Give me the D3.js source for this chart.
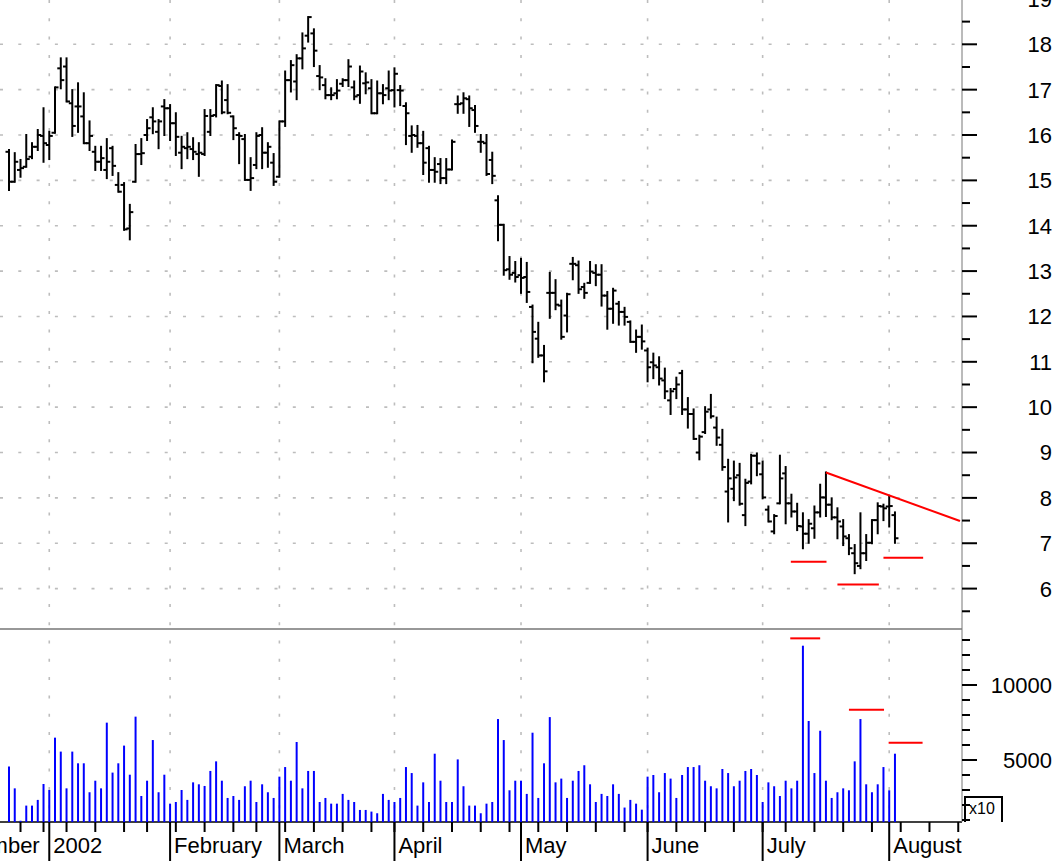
<!DOCTYPE html>
<html>
<head>
<meta charset="utf-8">
<script src="https://cdn.jsdelivr.net/npm/d3@7/dist/d3.min.js"></script>
<style>
  body { margin: 0; background: #fff; }
  text { font-family: "Liberation Sans", Arial, sans-serif; fill: #000; }
</style>
</head>
<body>
<script>
// daily bars from 20 Dec 2001, one per trading day (index 0 = first bar)
var firstBar = "2001-12-20";
var holidays = ["2001-12-25", "2002-01-01", "2002-01-21", "2002-02-18", "2002-03-29", "2002-05-27", "2002-07-04"];

var opens = [15.63,14.97,15.23,15.30,15.52,15.74,15.98,15.78,16.05,17.47,17.51,16.70,16.63,16.41,15.82,15.63,15.41,15.23,15.71,14.90,
  14.90,13.94,14.97,15.58,16.00,16.39,16.07,16.63,16.59,16.26,15.61,15.71,15.69,15.58,15.58,16.07,16.44,17.08,16.77,16.41,
  16.00,15.91,15.01,15.34,16.00,15.61,15.39,15.08,16.30,17.21,17.18,17.69,18.19,18.24,17.30,17.10,16.88,16.92,17.13,17.21,
  17.05,16.88,17.14,17.03,16.48,16.92,17.03,16.99,16.99,16.64,15.98,15.98,15.82,15.71,15.23,15.36,15.05,15.24,16.68,16.70,
  16.79,16.55,15.85,15.82,15.45,14.56,14.02,13.04,12.96,12.91,12.87,12.21,11.51,11.14,12.52,12.52,12.24,12.02,13.16,13.13,
  12.65,12.74,12.96,12.92,12.46,12.17,12.28,12.10,11.88,11.44,11.55,11.25,10.99,10.88,10.59,10.15,10.40,10.75,9.95,9.85,
  9.00,9.45,9.95,9.55,9.17,8.14,8.20,8.50,7.62,8.36,8.93,8.52,7.74,7.26,7.88,8.54,7.88,7.70,7.37,7.21,
  7.33,7.68,8.01,7.85,7.57,7.37,7.11,6.78,6.50,6.78,7.01,7.51,7.81,7.81,7.62];
var highs = [15.67,15.60,15.45,16.00,15.82,16.11,16.59,16.07,17.05,17.69,17.69,16.99,17.14,16.92,16.30,15.74,15.74,15.91,15.74,15.16,
  14.94,14.46,15.78,15.91,16.33,16.59,16.33,16.77,16.66,16.48,15.96,16.04,15.93,15.82,16.55,16.55,17.10,17.18,17.10,16.41,
  16.04,16.00,15.49,16.04,16.15,15.82,15.58,16.30,17.40,17.63,17.76,18.24,18.60,18.33,17.52,17.23,17.03,17.21,17.23,17.65,
  17.18,17.51,17.36,17.21,17.18,17.10,17.40,17.47,17.08,16.70,16.19,16.20,16.07,15.74,15.49,15.47,15.47,15.88,16.85,16.92,
  16.85,16.64,16.00,16.00,15.61,14.65,14.02,13.31,13.20,13.27,13.18,12.24,11.86,11.35,12.96,12.80,12.35,12.50,13.29,13.21,
  12.72,13.20,13.13,13.13,12.54,12.61,12.32,12.19,11.89,11.69,11.80,11.29,11.18,11.10,10.85,10.40,10.65,10.80,10.20,9.95,
  9.37,10.00,10.27,9.77,9.50,8.84,8.80,8.75,8.40,8.95,8.98,8.80,7.81,7.62,8.93,8.68,8.07,7.87,7.66,7.51,
  7.81,8.29,8.56,7.99,7.77,7.51,7.18,6.96,7.66,7.18,7.51,7.88,7.85,8.03,7.68];
var lows = [14.79,14.97,15.08,15.30,15.49,15.67,15.41,15.47,16.05,17.03,16.74,15.98,16.07,15.82,15.67,15.23,15.23,15.05,15.12,14.75,
  13.91,13.70,14.97,15.36,15.89,16.04,15.71,16.00,15.89,15.56,15.27,15.49,15.47,15.10,15.56,16.00,16.41,16.48,16.48,15.91,
  15.38,15.01,14.79,15.27,15.27,15.30,14.90,15.08,16.20,16.96,16.79,17.47,18.06,17.52,17.01,16.81,16.79,16.81,17.08,17.08,
  16.79,16.71,16.92,16.48,16.48,16.70,16.79,16.63,16.66,15.80,15.63,15.74,15.14,14.97,14.97,14.94,14.94,15.24,16.49,16.49,
  16.20,16.07,15.63,15.12,14.94,13.68,12.92,12.83,12.77,12.52,12.32,10.99,11.11,10.57,11.97,12.16,11.51,11.67,12.82,12.52,
  12.41,12.74,12.69,12.24,11.73,11.86,11.82,11.82,11.44,11.22,11.29,10.57,10.64,10.50,10.20,9.85,10.20,9.85,9.55,9.30,
  8.85,9.43,9.77,9.17,8.62,7.48,7.95,7.85,7.40,8.32,8.50,7.99,7.48,7.22,7.88,7.44,7.59,7.29,6.89,7.01,
  7.12,7.59,7.60,7.53,7.11,6.96,6.76,6.34,6.45,6.63,7.00,7.22,7.51,7.37,7.01];
var closes = [14.97,15.41,15.27,15.47,15.74,16.00,15.82,15.98,17.05,17.21,16.74,16.20,16.63,15.82,15.98,15.41,15.49,15.41,15.32,14.75,
  13.92,14.30,15.58,15.60,16.15,16.30,16.30,16.59,16.26,15.96,15.74,15.74,15.63,15.61,16.42,16.42,17.10,16.50,16.49,16.15,
  15.98,15.01,15.05,15.98,15.61,15.74,14.97,16.30,17.21,17.54,17.69,17.91,18.60,17.86,17.27,16.88,16.88,16.98,17.21,17.51,
  16.85,17.40,17.16,16.48,16.92,16.88,16.98,17.35,16.98,16.48,16.00,15.82,15.39,15.23,15.19,15.05,15.24,15.85,16.68,16.81,
  16.59,16.20,15.85,15.14,15.10,14.02,13.02,12.92,12.87,12.85,12.54,11.66,11.14,10.79,12.52,12.26,11.55,12.49,13.16,12.60,
  12.52,12.99,12.92,12.46,12.17,12.57,12.10,11.99,11.44,11.55,11.45,10.88,10.92,10.63,10.35,10.35,10.50,9.95,9.85,9.30,
  9.35,9.90,9.80,9.33,8.68,8.43,8.45,7.87,8.33,8.93,8.76,8.01,7.48,7.60,8.43,7.88,7.70,7.38,7.21,7.43,
  7.68,8.01,7.85,7.57,7.48,7.15,6.89,6.56,6.78,7.01,7.51,7.82,7.77,7.82,7.11];
// volume as printed on the lower axis (x10)
var volumes = [4560,3110,950,1960,1960,2340,3400,3000,6490,5560,3110,5560,4780,4780,2850,3620,3110,7490,4160,4780,
  5960,4020,7890,2600,3620,6330,2850,4020,2090,2200,3000,2340,3510,3380,3270,4270,4910,3620,2470,2600,
  2340,3250,3620,2200,3380,2850,2470,3890,4530,3620,6200,3110,4270,4270,2200,2470,2090,2090,2740,2340,
  2200,1670,1670,1560,1450,2740,2340,2200,2470,4530,4130,1960,3510,2200,5420,3620,2200,2200,5040,3250,
  1960,1960,1450,2090,2200,7730,6330,2980,3620,3620,2740,6820,2470,4780,7860,3510,3760,2470,3620,4270,
  4650,3380,2200,2740,2600,3380,2740,1830,2340,2090,1690,3890,4000,2850,4130,3760,2470,4000,4530,4530,
  4650,3620,3250,3110,4400,4130,3250,3620,4270,4400,4000,2200,3510,3250,2600,3620,3110,3620,12620,7600,
  4130,6950,3620,2470,2850,3110,2980,4910,7730,3380,2850,3380,4530,2980,5420];

var priceTicks = d3.range(6, 20);
var volTicks = [5000, 10000];

// red marks on the chart: [from bar, to bar, level]
var priceMarks = [[135.9, 142.1, 6.59], [144.0, 151.2, 6.09], [152.0, 158.9, 6.68]];
var trendLine = [[142, 8.56], [165.3, 7.49]];
var volumeMarks = [[135.8, 141.0, 13110], [146.0, 152.1, 8350], [152.9, 158.8, 6150]];

var width = 1061, height = 861;
var axisX = 962, sepY = 629, baseY = 822;

var fmt = d3.utcFormat("%Y-%m-%d");
var days = d3.utcDay.range(new Date(Date.UTC(2001, 11, 1)), new Date(Date.UTC(2002, 8, 1)))
  .filter(function (d) { return d.getUTCDay() % 6 != 0 && holidays.indexOf(fmt(d)) < 0; });
var i0 = days.findIndex(function (d) { return fmt(d) == firstBar; });

var x = d3.scaleLinear().domain([0, 154]).range([9, 9 + 154 * 5.753]);
var y = d3.scaleLinear().domain([6, 18]).range([588.6, 44.3]);
var yv = d3.scaleLinear().domain([5000, 10000]).range([760, 685]);

var months = [], weeks = [];
days.forEach(function (d, k) {
  var p = days[k - 1];
  if (!p || p.getUTCMonth() != d.getUTCMonth()) months.push({ i: k - i0, d: d });
  if (p && +d3.utcMonday.floor(p) != +d3.utcMonday.floor(d)) weeks.push(k - i0);
});

var svg = d3.select("body").append("svg")
  .attr("width", width).attr("height", height);
svg.append("rect").attr("width", width).attr("height", height).attr("fill", "#fff");

svg.append("clipPath").attr("id", "plot")
  .append("rect").attr("x", 0).attr("y", 0).attr("width", axisX).attr("height", height);

var plot = svg.append("g").attr("clip-path", "url(#plot)");

// dotted grid
plot.selectAll(".hgrid").data(priceTicks).enter().append("line")
  .attr("x1", 0).attr("x2", axisX)
  .attr("y1", function (d) { return y(d); }).attr("y2", function (d) { return y(d); })
  .attr("stroke", "#bdbdbd").attr("stroke-width", 1.6).attr("stroke-dasharray", "3,15.3");
plot.selectAll(".vgrid").data(months).enter().append("line")
  .attr("x1", function (d) { return x(d.i); }).attr("x2", function (d) { return x(d.i); })
  .attr("y1", 0).attr("y2", baseY)
  .attr("stroke", "#bdbdbd").attr("stroke-width", 1.6).attr("stroke-dasharray", "3,15.3");

// panel separator and baseline
plot.append("line").attr("x1", 0).attr("x2", axisX).attr("y1", sepY).attr("y2", sepY)
  .attr("stroke", "#333").attr("stroke-width", 1.2);
plot.append("line").attr("x1", 0).attr("x2", axisX).attr("y1", baseY).attr("y2", baseY)
  .attr("stroke", "#000").attr("stroke-width", 1.5);

// volume
plot.selectAll(".vol").data(volumes).enter().append("line")
  .attr("x1", function (d, i) { return x(i); }).attr("x2", function (d, i) { return x(i); })
  .attr("y1", baseY).attr("y2", function (d) { return yv(d); })
  .attr("stroke", "#0000ff").attr("stroke-width", 2);

// OHLC bars
var bars = plot.selectAll(".bar").data(opens).enter().append("g")
  .attr("stroke", "#000").attr("stroke-width", 2);
bars.append("line")
  .attr("x1", function (d, i) { return x(i); }).attr("x2", function (d, i) { return x(i); })
  .attr("y1", function (d, i) { return y(highs[i]) - 1; }).attr("y2", function (d, i) { return y(lows[i]) + 1; });
bars.append("line")
  .attr("x1", function (d, i) { return x(i) - 3.5; }).attr("x2", function (d, i) { return x(i); })
  .attr("y1", function (d) { return y(d); }).attr("y2", function (d) { return y(d); });
bars.append("line")
  .attr("x1", function (d, i) { return x(i); }).attr("x2", function (d, i) { return x(i) + 3.5; })
  .attr("y1", function (d, i) { return y(closes[i]); }).attr("y2", function (d, i) { return y(closes[i]); });

// red annotations
plot.selectAll(".pm").data(priceMarks).enter().append("line")
  .attr("x1", function (d) { return x(d[0]); }).attr("x2", function (d) { return x(d[1]); })
  .attr("y1", function (d) { return y(d[2]); }).attr("y2", function (d) { return y(d[2]); })
  .attr("stroke", "#ff0000").attr("stroke-width", 2);
plot.selectAll(".vm").data(volumeMarks).enter().append("line")
  .attr("x1", function (d) { return x(d[0]); }).attr("x2", function (d) { return x(d[1]); })
  .attr("y1", function (d) { return yv(d[2]); }).attr("y2", function (d) { return yv(d[2]); })
  .attr("stroke", "#ff0000").attr("stroke-width", 2);
plot.append("line")
  .attr("x1", x(trendLine[0][0])).attr("y1", y(trendLine[0][1]))
  .attr("x2", x(trendLine[1][0])).attr("y2", y(trendLine[1][1]))
  .attr("stroke", "#ff0000").attr("stroke-width", 2);

// time axis: week ticks, month lines, labels
plot.selectAll(".wk").data(weeks).enter().append("line")
  .attr("x1", function (d) { return x(d); }).attr("x2", function (d) { return x(d); })
  .attr("y1", baseY).attr("y2", baseY + 10)
  .attr("stroke", "#000").attr("stroke-width", 2);
plot.selectAll(".mo").data(months).enter().append("line")
  .attr("x1", function (d) { return x(d.i); }).attr("x2", function (d) { return x(d.i); })
  .attr("y1", baseY).attr("y2", height)
  .attr("stroke", "#000").attr("stroke-width", 2);
var monthName = d3.utcFormat("%B");
plot.selectAll(".ml").data(months).enter().append("text")
  .attr("x", function (d) { return x(d.i) + 4; }).attr("y", 853)
  .attr("font-size", 22)
  .text(function (d) { return d.d.getUTCMonth() == 0 ? d.d.getUTCFullYear() : monthName(d.d); });

// right axis
svg.append("line").attr("x1", axisX).attr("x2", axisX).attr("y1", 0).attr("y2", baseY)
  .attr("stroke", "#777").attr("stroke-width", 1);
svg.selectAll(".pt").data(d3.range(5.5, 19.5, 0.5)).enter().append("line")
  .attr("x1", axisX).attr("x2", function (d) { return axisX + (d % 1 ? 8 : 15); })
  .attr("y1", function (d) { return y(d); }).attr("y2", function (d) { return y(d); })
  .attr("stroke", "#000").attr("stroke-width", 2);
svg.selectAll(".pl").data(priceTicks).enter().append("text")
  .attr("x", 1052).attr("y", function (d) { return y(d); }).attr("dy", "0.36em")
  .attr("text-anchor", "end").attr("font-size", 22)
  .text(function (d) { return d; });

svg.selectAll(".vt").data(d3.range(1000, 14000, 1000)).enter().append("line")
  .attr("x1", axisX).attr("x2", function (d) { return axisX + (d % 5000 ? 8 : 15); })
  .attr("y1", function (d) { return yv(d); }).attr("y2", function (d) { return yv(d); })
  .attr("stroke", "#000").attr("stroke-width", 2);
svg.selectAll(".vl").data(volTicks).enter().append("text")
  .attr("x", 1052).attr("y", function (d) { return yv(d); }).attr("dy", "0.36em")
  .attr("text-anchor", "end").attr("font-size", 22)
  .text(function (d) { return d; });

// x10 box
svg.append("path").attr("d", "M965," + baseY + "V797H1002V" + baseY)
  .attr("fill", "none").attr("stroke", "#000").attr("stroke-width", 2);
svg.append("text").attr("x", 969).attr("y", 814).attr("font-size", 16).text("x10");
</script>
</body>
</html>
